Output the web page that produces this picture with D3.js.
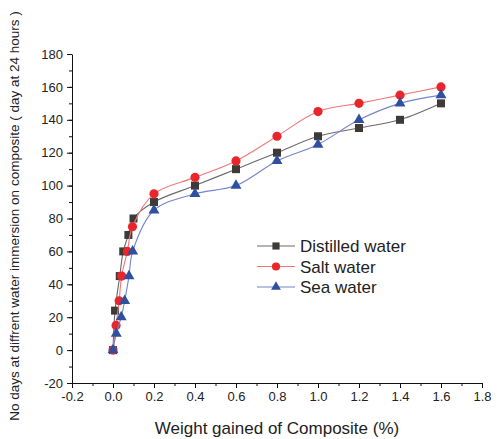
<!DOCTYPE html>
<html>
<head>
<meta charset="utf-8">
<script src="https://cdn.jsdelivr.net/npm/d3@7"></script>
<style>
  body { margin: 0; background: #fff; }
  text { font-family: "Liberation Sans", Arial, sans-serif; fill: #222; }
</style>
</head>
<body>
<div id="chart"></div>
<script>
// data
var distilledX = [0, 0.01, 0.033, 0.05, 0.075, 0.1, 0.2, 0.4, 0.6, 0.8, 1.0, 1.2, 1.4, 1.6];
var distilledY = [0, 24, 45, 60, 70, 80, 90, 100, 110, 120, 130, 135, 140, 150];
var saltX = [0, 0.015, 0.03, 0.042, 0.07, 0.095, 0.2, 0.4, 0.6, 0.8, 1.0, 1.2, 1.4, 1.6];
var saltY = [0, 15, 30, 45, 60, 75, 95, 105, 115, 130, 145, 150, 155, 160];
var seaX = [0, 0.016, 0.04, 0.057, 0.078, 0.096, 0.2, 0.4, 0.6, 0.8, 1.0, 1.2, 1.4, 1.6];
var seaY = [0, 10, 20, 30, 45, 60, 85, 95, 100, 115, 125, 140, 150, 155];
var seriesNames = ["Distilled water", "Salt water", "Sea water"];
var xTicks = [-0.2, 0.0, 0.2, 0.4, 0.6, 0.8, 1.0, 1.2, 1.4, 1.6, 1.8];
var yTicks = [-20, 0, 20, 40, 60, 80, 100, 120, 140, 160, 180];

var svgWidth = 499, svgHeight = 439;
var svg = d3.select("#chart").append("svg")
    .attr("width", svgWidth)
    .attr("height", svgHeight);

var xScale = d3.scaleLinear().domain([-0.2, 1.8]).range([72, 482]);
var yScale = d3.scaleLinear().domain([-20, 180]).range([383, 54]);

// axes with minor ticks
var xMinor = d3.range(-0.2, 1.81, 0.1);
var yMinor = d3.range(-20, 181, 10);

svg.append("g")
    .attr("transform", "translate(0," + yScale(-20) + ")")
    .call(d3.axisBottom(xScale).tickValues(xMinor).tickSize(3).tickFormat(""))
    .call(g => g.select(".domain").remove());
var xAxis = svg.append("g")
    .attr("transform", "translate(0," + yScale(-20) + ")")
    .call(d3.axisBottom(xScale).tickValues(xTicks).tickSize(5).tickSizeOuter(0).tickPadding(4)
        .tickFormat(d3.format(".1f")));
xAxis.selectAll("text").attr("font-size", 13).attr("font-family", "Liberation Sans, Arial, sans-serif").attr("fill", "#222")
    .text(d => d3.format(".1f")(d).replace("−", "-"));

svg.append("g")
    .attr("transform", "translate(" + xScale(-0.2) + ",0)")
    .call(d3.axisLeft(yScale).tickValues(yMinor).tickSize(3).tickFormat(""))
    .call(g => g.select(".domain").remove());
var yAxis = svg.append("g")
    .attr("transform", "translate(" + xScale(-0.2) + ",0)")
    .call(d3.axisLeft(yScale).tickValues(yTicks).tickSize(5).tickSizeOuter(0).tickPadding(4));
yAxis.selectAll("text").attr("font-size", 13).attr("font-family", "Liberation Sans, Arial, sans-serif").attr("fill", "#222")
    .text(d => String(d));
svg.selectAll(".domain, .tick line").attr("stroke", "#111");

// axis titles
svg.append("text")
    .attr("x", (72 + 482) / 2)
    .attr("y", 434)
    .attr("text-anchor", "middle")
    .attr("font-size", 17)
    .text("Weight gained of Composite (%)");

svg.append("text")
    .attr("transform", "translate(19,216) rotate(-90)")
    .attr("text-anchor", "middle")
    .attr("font-size", 13.5)
    .text("No days at diffrent water immersion on composite ( day at 24 hours )");

// series
var series = [
    { name: seriesNames[0], xs: distilledX, ys: distilledY, line: "#6a6a6a", fill: "#3d3a38", sym: d3.symbolSquare, size: 64 },
    { name: seriesNames[1], xs: saltX, ys: saltY, line: "#f07878", fill: "#e8262b", sym: d3.symbolCircle, size: 66 },
    { name: seriesNames[2], xs: seaX, ys: seaY, line: "#7585c8", fill: "#2f4f9f", sym: d3.symbolTriangle, size: 52 }
];

var lineGen = d3.line()
    .x(d => xScale(d[0]))
    .y(d => yScale(d[1]))
    .curve(d3.curveCatmullRom.alpha(0.5));

series.forEach(function(s) {
    var pts = s.xs.map((x, i) => [x, s.ys[i]]);
    svg.append("path")
        .datum(pts)
        .attr("d", lineGen)
        .attr("fill", "none")
        .attr("stroke", s.line)
        .attr("stroke-width", 1.1);
    svg.selectAll(null)
        .data(pts)
        .enter()
        .append("path")
        .attr("d", d3.symbol().type(s.sym).size(s.size))
        .attr("transform", d => "translate(" + xScale(d[0]) + "," + yScale(d[1]) + ")")
        .attr("fill", s.fill);
});

// legend
var legend = svg.append("g");
series.forEach(function(s, i) {
    var y = 246 + i * 20.5;
    legend.append("line")
        .attr("x1", 257).attr("x2", 295)
        .attr("y1", y).attr("y2", y)
        .attr("stroke", s.line).attr("stroke-width", 1.1);
    legend.append("path")
        .attr("d", d3.symbol().type(s.sym).size(s.size * 0.8))
        .attr("transform", "translate(276," + y + ")")
        .attr("fill", s.fill);
    legend.append("text")
        .attr("x", 300)
        .attr("y", y + 6)
        .attr("font-size", 17)
        .text(s.name);
});
</script>
</body>
</html>
